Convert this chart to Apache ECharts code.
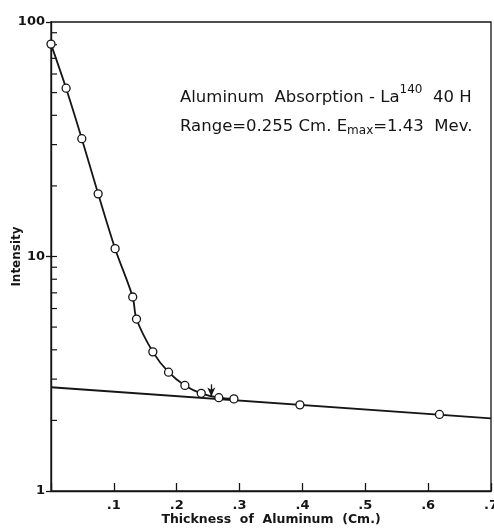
<!DOCTYPE html>
<html><head><meta charset="utf-8">
<script src="https://cdn.jsdelivr.net/npm/echarts@6/dist/echarts.min.js"></script>
<style>html,body{margin:0;padding:0;background:#fff}#c{width:494px;height:531px}</style>
</head><body><div id="c"></div>
<script>
// Measured data points (thickness in cm, intensity)
const thickness = [0.0, 0.024, 0.049, 0.075, 0.102, 0.130, 0.136, 0.162, 0.187, 0.213, 0.239, 0.267, 0.291, 0.396, 0.618];
const intensity = [80.5, 52.2, 31.8, 18.5, 10.8, 6.72, 5.41, 3.92, 3.21, 2.82, 2.61, 2.50, 2.47, 2.33, 2.12];
// Smooth absorption curve drawn through the early points
const curveX = [0.0, 0.024, 0.049, 0.075, 0.102, 0.130, 0.136, 0.162, 0.187, 0.213, 0.239, 0.267, 0.291];
const curveY = [80.5, 52.2, 31.8, 18.5, 10.8, 6.72, 5.41, 3.92, 3.21, 2.82, 2.61, 2.50, 2.47];
// Background (gamma) straight line
const bgX = [0.0, 0.7];
const bgY = [2.77, 2.04];
// Range arrow
const arrowX = 0.255;
const arrowY = [2.85, 2.53];
// Axis ticks
const xTicks = [0.1, 0.2, 0.3, 0.4, 0.5, 0.6, 0.7];
const yMinorTicks = [2,3,4,5,6,7,8,9,10,20,30,40,50,60,70,80,90];

const chart = echarts.init(document.getElementById('c'), null, {renderer:'canvas'});
const FONT = '"DejaVu Sans", sans-serif';
const INK = '#151515';
chart.setOption({
  backgroundColor:'#fff',
  animation:false,
  grid:{left:51, right:3, top:22, bottom:40, show:true, borderColor:INK, borderWidth:1.3,
    containLabel:false, outerBoundsMode:'none'},
  xAxis:{type:'value', min:0, max:0.7, interval:0.1,
    axisLine:{lineStyle:{color:INK, width:1.4}},
    axisTick:{inside:true, length:8, lineStyle:{color:INK, width:1.3}},
    splitLine:{show:false},
    axisLabel:{margin:8, color:INK, fontFamily:FONT, fontWeight:'bold', fontSize:13,
      formatter:v=> v===0 ? '' : String(+v.toFixed(1)).replace(/^0/,'')},
    name:'Thickness  of  Aluminum  (Cm.)', nameLocation:'middle', nameGap:22, nameMoveOverlap:false,
    nameTextStyle:{color:INK, fontFamily:FONT, fontWeight:'bold', fontSize:12.5}
  },
  yAxis:{type:'log', min:1, max:100, logBase:10,
    axisLine:{lineStyle:{color:INK, width:1.4}},
    axisTick:{inside:false, length:5, lineStyle:{color:INK, width:1.3}},
    minorTick:{show:false},
    splitLine:{show:false},
    axisLabel:{margin:6, color:INK, fontFamily:FONT, fontWeight:'bold', fontSize:13},
    name:'Intensity', nameLocation:'middle', nameGap:28, nameMoveOverlap:false,
    nameTextStyle:{color:INK, fontFamily:FONT, fontWeight:'bold', fontSize:12}
  },
  series:[
    {type:'custom', data:yMinorTicks.map(v=>[0,v]), clip:false, silent:true,
      renderItem:(params, api)=>{
        const p = api.coord([api.value(0), api.value(1)]);
        return {type:'line', shape:{x1:p[0], y1:p[1], x2:p[0]+6, y2:p[1]},
          style:{stroke:INK, lineWidth:1.2}};
      }, z:3},
    {type:'line', data:bgX.map((x,i)=>[x,bgY[i]]), symbol:'none', silent:true,
      lineStyle:{color:INK, width:1.8},
      markLine:{silent:true, symbol:['none','arrow'], symbolSize:[6,9], label:{show:false},
        lineStyle:{color:INK, width:1.3, type:'solid'},
        data:[[{coord:[arrowX, arrowY[0]]},{coord:[arrowX, arrowY[1]]}]]}},
    {type:'line', data:curveX.map((x,i)=>[x,curveY[i]]), symbol:'none', smooth:0.3, silent:true,
      lineStyle:{color:INK, width:1.8}},
    {type:'scatter', data:thickness.map((x,i)=>[x,intensity[i]]), symbol:'circle', symbolSize:8,
      itemStyle:{color:'#fff', opacity:1, borderColor:INK, borderWidth:1.3}, z:5}
  ],
  graphic:[
    {type:'text', left:180, top:84, style:{
      rich:{
        a:{fontFamily:FONT, fontSize:16.5, fill:INK, verticalAlign:'bottom', lineHeight:22},
        s:{fontFamily:FONT, fontSize:12, fill:INK, verticalAlign:'top', lineHeight:22, padding:[0,0,12,0]}
      },
      text:'{a|Aluminum  Absorption - La}{s|140}{a|  40 H}'}},
    {type:'text', left:180, top:117, style:{
      rich:{
        a:{fontFamily:FONT, fontSize:16.5, fill:INK, lineHeight:22},
        b:{fontFamily:FONT, fontSize:12, fill:INK, lineHeight:22, padding:[8,0,0,0]}
      },
      text:'{a|Range=0.255 Cm. E}{b|max}{a|=1.43  Mev.}'}}
  ]
});
</script></body></html>
